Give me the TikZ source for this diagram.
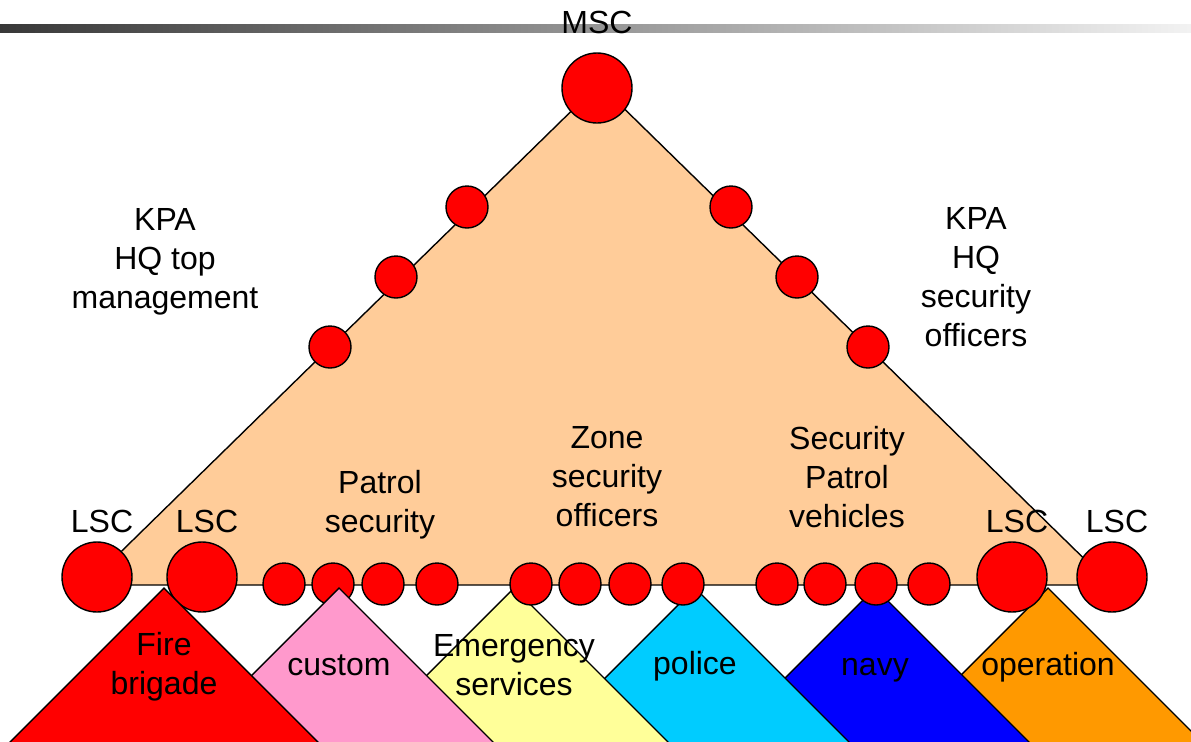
\documentclass[tikz,border=0pt]{standalone}
\usepackage{fontspec}
\setmainfont{Liberation Sans}
\usepackage{tikz}
\usetikzlibrary{positioning}
\definecolor{peach}{HTML}{FFCC99}
\definecolor{pinkish}{HTML}{FF99CC}
\definecolor{paleyellow}{HTML}{FFFF99}
\definecolor{skyblue}{HTML}{00CCFF}
\definecolor{deepblue}{HTML}{0000FF}
\definecolor{amber}{HTML}{FF9900}
\tikzset{
    dot/.style={
        circle,
        draw,
        fill=red,
        line width=0.7pt,
        inner sep=0pt
    },
    big dot/.style={dot, minimum size=35pt},
    small dot/.style={dot, minimum size=21pt},
    words/.style={
        align=center,
        font=\fontsize{16}{19.5}\selectfont
    },
    team/.style={draw, line width=0.7pt}
}
\begin{document}
\begin{tikzpicture}[x=0.5pt,y=-0.5pt]
    \useasboundingbox (0,0) rectangle (1191,741);
    \clip (0,0) rectangle (1191,741);
    % header bar
    \shade[left color=black!78, right color=black!5] (0,24) rectangle (1191,32);
    \node[words] (msctext) at (597,22) {MSC};

    % main triangle
    \coordinate (top) at (599,84);
    \coordinate (bl) at (87,585);
    \coordinate (br) at (1111,585);
    \draw[fill=peach, line width=0.7pt] (top) -- (br) -- (bl) -- cycle;

    \node[words] (hqtop) at (165,262) {KPA\\HQ top\\management};
    \node[words] (hqsec) at (976,277) {KPA\\HQ\\security\\officers};
    \node[words] (patrol) at (380,505) {Patrol\\security};
    \node[words] (zone) at (607,477) {Zone\\security\\officers};
    \node[words] (vehicles) at (847,477) {Security\\Patrol\\vehicles};

    % units below the base
    \foreach \x/\c in {1048/amber,875/deepblue,695/skyblue,514/paleyellow}
      \draw[team, fill=\c] (\x,588) -- ++(170,170) -- ++(-340,0) -- cycle;

    % nodes on the triangle
    \node[big dot] (msc) at (597,88) {};
    \foreach \x/\y/\n in {467/207/l1,396/277/l2,330/347/l3,731/207/r1,797/277/r2,868/347/r3}
      \node[small dot] (\n) at (\x,\y) {};
    \foreach \x [count=\i] in {284,333,383,437,531,580,630,683,777,825,876,929}
      \node[small dot] (b\i) at (\x,584) {};
    \foreach \x [count=\i] in {97,202,1012,1112}
      \node[big dot] (lsc\i) at (\x,577) {};

    \draw[team, fill=pinkish] (339,588) -- ++(170,170) -- ++(-340,0) -- cycle;
    \draw[team, fill=red] (164,588) -- ++(170,170) -- ++(-340,0) -- cycle;

    \foreach \i in {1,...,4}
      \node[words, above=0.5pt of lsc\i, xshift=2.5pt] (lsclabel\i) {LSC};

    \node[words] (fire) at (164,667) {Fire\\brigade};
    \node[words, anchor=base] (custom) at (339,675) {custom};
    \node[words] (emergency) at (514,665) {Emergency\\services};
    \node[words, anchor=base] (policetext) at (695,674) {police};
    \node[words, anchor=base] (navytext) at (875,675) {navy};
    \node[words, anchor=base] (operation) at (1048,675) {operation};
\end{tikzpicture}
\end{document}
